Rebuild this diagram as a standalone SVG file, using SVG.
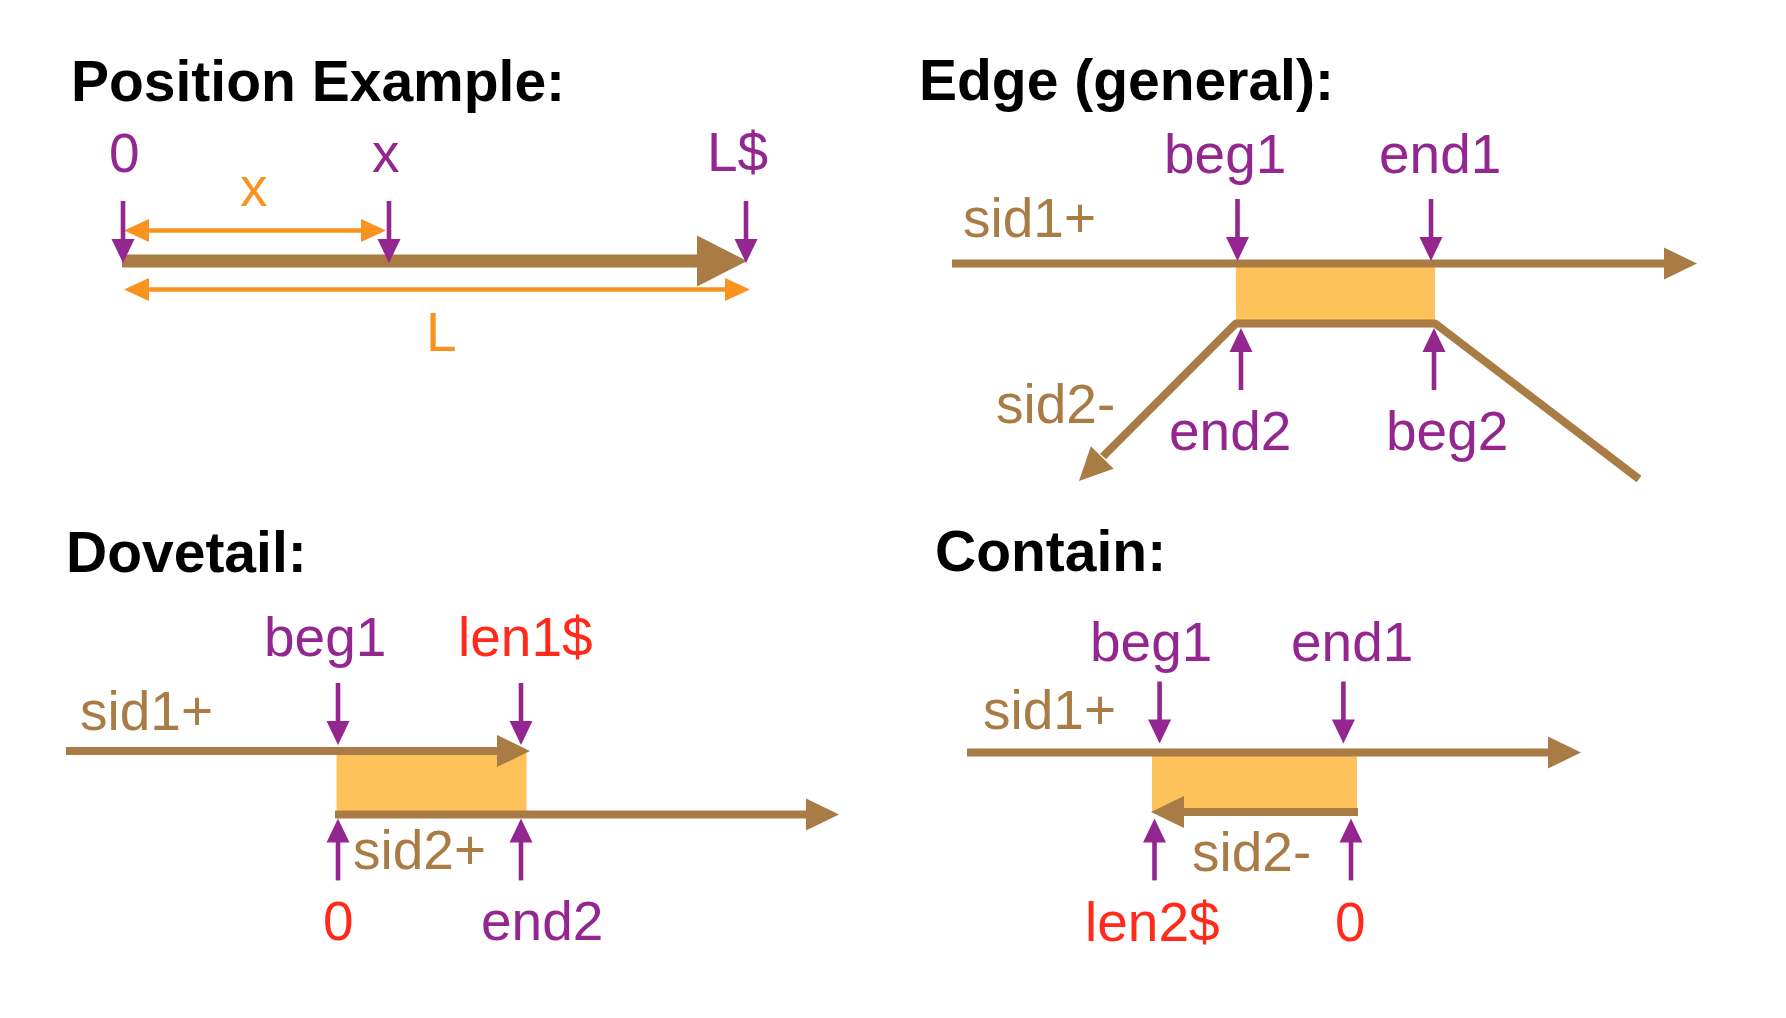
<svg xmlns="http://www.w3.org/2000/svg" xmlns:xlink="http://www.w3.org/1999/xlink" width="1786" height="1018" viewBox="0 0 1786 1018">
<style>
.title{font-family:"Liberation Sans",Arial,sans-serif;font-weight:bold;font-size:57px;fill:#000}
.lbl{font-family:"Liberation Sans",Arial,sans-serif;font-size:55px}
.pur{fill:#93278F}
.brn{fill:#A97B45}
.red{fill:#FF2A1A}
.org{fill:#F7931E}
.seq{stroke:#A97B45;stroke-width:8;fill:none}
.box{fill:#FDC35A}
</style>
<defs>
<g id="pdown">
<line x1="0" y1="-62" x2="0" y2="-22" stroke="#93278F" stroke-width="4.6"/>
<polygon points="-11.5,-24 11.5,-24 0,0" fill="#93278F"/>
</g>
<g id="bhead"><polygon points="-33,-16 0,0 -33,16" fill="#A97B45"/></g>
<g id="ohead"><polygon points="-25,-11.5 0,0 -25,11.5" fill="#F7931E"/></g>
</defs>
<rect width="1786" height="1018" fill="#fff"/>
<g transform="translate(-3,0)">
<g id="position">
<text class="title" x="74" y="100.5">Position Example:</text>
<text class="lbl pur" x="112" y="172">0</text>
<text class="lbl pur" x="375" y="172">x</text>
<text class="lbl pur" x="710" y="171">L$</text>
<text class="lbl org" x="243" y="206">x</text>
<text class="lbl org" x="429" y="351">L</text>
<g id="pos-connectors">
<line x1="125" y1="261" x2="702" y2="261" stroke="#A97B45" stroke-width="13"/>
<polygon points="700,235.5 750,261 700,286.5" fill="#A97B45"/>
<line x1="145" y1="230.5" x2="370" y2="230.5" stroke="#F7931E" stroke-width="4.7"/>
<use xlink:href="#ohead" transform="translate(389,230.5)"/>
<use xlink:href="#ohead" transform="translate(127,230.5) scale(-1,1)"/>
<line x1="145" y1="289.5" x2="735" y2="289.5" stroke="#F7931E" stroke-width="4.7"/>
<use xlink:href="#ohead" transform="translate(753,289.5)"/>
<use xlink:href="#ohead" transform="translate(127,289.5) scale(-1,1)"/>
<use xlink:href="#pdown" transform="translate(126,263)"/>
<use xlink:href="#pdown" transform="translate(392,263)"/>
<use xlink:href="#pdown" transform="translate(749,263)"/>
</g>
</g>

<g id="edge">
<text class="title" x="922" y="100">Edge (general):</text>
<rect class="box" x="1239" y="263" width="199" height="60"/>
<g id="edge-connectors">
<line class="seq" x1="955" y1="263.5" x2="1669" y2="263.5"/>
<use xlink:href="#bhead" transform="translate(1700,263.5)"/>
<polyline class="seq" stroke-linejoin="round" points="1642,479 1438,323.4 1239,323.4 1106,456.5"/>
<use xlink:href="#bhead" transform="translate(1082,481) rotate(134.8)"/>
<use xlink:href="#pdown" transform="translate(1240.5,261)"/>
<use xlink:href="#pdown" transform="translate(1434,261)"/>
<use xlink:href="#pdown" transform="translate(1244,328) scale(1,-1)"/>
<use xlink:href="#pdown" transform="translate(1437,328) scale(1,-1)"/>
</g>
<text class="lbl pur" x="1167" y="173">beg1</text>
<text class="lbl pur" x="1382" y="173">end1</text>
<text class="lbl brn" x="966" y="237">sid1+</text>
<text class="lbl brn" x="999" y="422.5">sid2-</text>
<text class="lbl pur" x="1172" y="450">end2</text>
<text class="lbl pur" x="1389" y="450">beg2</text>
</g>

<g id="dovetail">
<text class="title" x="69" y="571.5">Dovetail:</text>
<rect class="box" x="339.5" y="751" width="190" height="63"/>
<g id="dove-connectors">
<line class="seq" x1="69" y1="751" x2="503" y2="751"/>
<use xlink:href="#bhead" transform="translate(533,751)"/>
<line class="seq" x1="338" y1="814.4" x2="811" y2="814.4"/>
<use xlink:href="#bhead" transform="translate(842,814.4)"/>
<use xlink:href="#pdown" transform="translate(341,745)"/>
<use xlink:href="#pdown" transform="translate(524,745)"/>
<use xlink:href="#pdown" transform="translate(341,818.4) scale(1,-1)"/>
<use xlink:href="#pdown" transform="translate(524,818.4) scale(1,-1)"/>
</g>
<text class="lbl pur" x="267" y="656">beg1</text>
<text class="lbl red" x="461" y="656">len1$</text>
<text class="lbl brn" x="83" y="729.6">sid1+</text>
<text class="lbl brn" x="356" y="869">sid2+</text>
<text class="lbl red" x="326" y="940">0</text>
<text class="lbl pur" x="484" y="940">end2</text>
</g>

<g id="contain">
<text class="title" x="938" y="570.5">Contain:</text>
<rect class="box" x="1155" y="752.5" width="205" height="59.5"/>
<g id="contain-connectors">
<line class="seq" x1="970" y1="752.5" x2="1553" y2="752.5"/>
<use xlink:href="#bhead" transform="translate(1584,752.5)"/>
<line class="seq" x1="1361" y1="812" x2="1184" y2="812"/>
<use xlink:href="#bhead" transform="translate(1154,812) scale(-1,1)"/>
<use xlink:href="#pdown" transform="translate(1162.6,743.5)"/>
<use xlink:href="#pdown" transform="translate(1346.4,743.5)"/>
<use xlink:href="#pdown" transform="translate(1157.5,818.4) scale(1,-1)"/>
<use xlink:href="#pdown" transform="translate(1354,818.4) scale(1,-1)"/>
</g>
<text class="lbl pur" x="1093" y="661">beg1</text>
<text class="lbl pur" x="1294" y="661">end1</text>
<text class="lbl brn" x="986" y="728.6">sid1+</text>
<text class="lbl brn" x="1195" y="870.6">sid2-</text>
<text class="lbl red" x="1088" y="940.5">len2$</text>
<text class="lbl red" x="1338" y="940.5">0</text>
</g>
</g>
</svg>
